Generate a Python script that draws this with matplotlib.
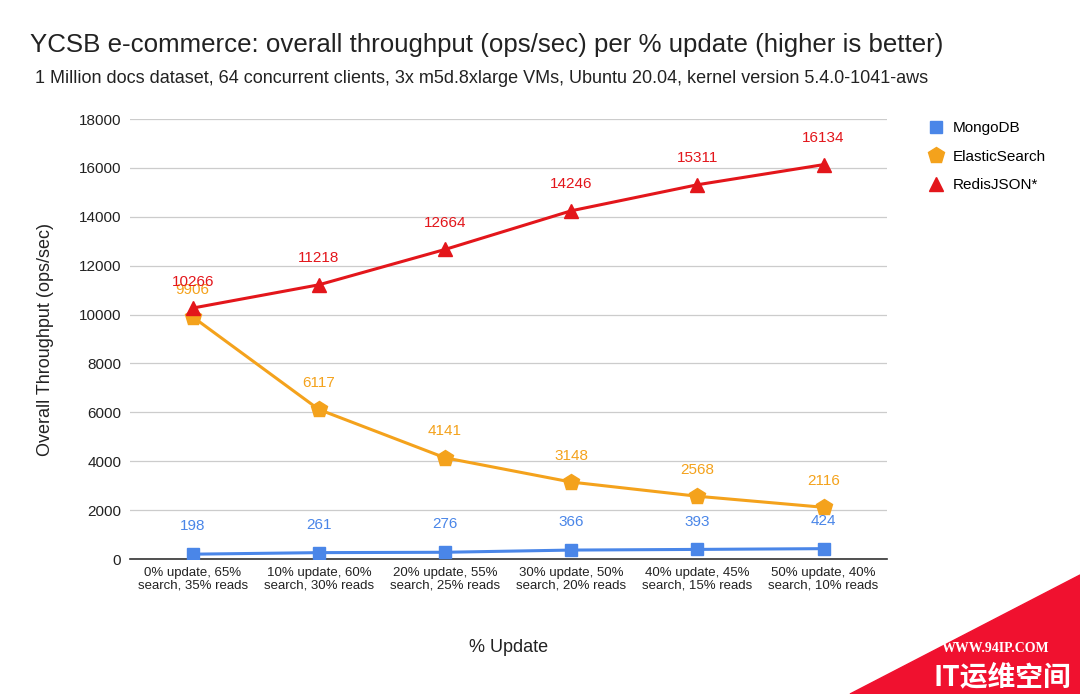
import matplotlib.pyplot as plt
from matplotlib.patches import Polygon
from matplotlib.lines import Line2D

categories = ['0% update, 65%\nsearch, 35% reads', '10% update, 60%\nsearch, 30% reads',
              '20% update, 55%\nsearch, 25% reads', '30% update, 50%\nsearch, 20% reads',
              '40% update, 45%\nsearch, 15% reads', '50% update, 40%\nsearch, 10% reads']
mongodb = [198, 261, 276, 366, 393, 424]
elastic = [9906, 6117, 4141, 3148, 2568, 2116]
redisjson = [10266, 11218, 12664, 14246, 15311, 16134]
yticks = [0, 2000, 4000, 6000, 8000, 10000, 12000, 14000, 16000, 18000]

c_blue = '#4a86e8'
c_orange = '#f4a21c'
c_red = '#e3161b'

plt.rcParams['font.family'] = ['Liberation Sans', 'DejaVu Sans']

fig = plt.figure(figsize=(10.8, 6.94), dpi=100)
ax = fig.add_axes([0.120, 0.1945, 0.701, 0.634])
x = list(range(len(categories)))

ax.plot(x, mongodb, color=c_blue, lw=2.2, marker='s', ms=8, zorder=3)
ax.plot(x, elastic, color=c_orange, lw=2.2, marker='p', ms=12, zorder=3)
ax.plot(x, redisjson, color=c_red, lw=2.2, marker='^', ms=10, zorder=4)

# data labels
for xi, v in zip(x, mongodb):
    ax.annotate(str(v), (xi, v), xytext=(0, 15), textcoords='offset points',
                ha='center', va='bottom', color=c_blue, fontsize=11)
for xi, v in zip(x, elastic):
    ax.annotate(str(v), (xi, v), xytext=(0, 14), textcoords='offset points',
                ha='center', va='bottom', color=c_orange, fontsize=11, zorder=2)
for xi, v in zip(x, redisjson):
    ax.annotate(str(v), (xi, v), xytext=(0, 14), textcoords='offset points',
                ha='center', va='bottom', color=c_red, fontsize=11, zorder=5)

ax.set_xlim(-0.5, len(categories) - 0.5)
ax.set_ylim(0, 18000)
ax.set_yticks(yticks)
ax.set_yticklabels([str(t) for t in yticks], fontsize=11, color='#222222')
ax.set_xticks(x)
ax.set_xticklabels(categories, fontsize=9.5, color='#222222', linespacing=1.0)
ax.tick_params(length=0, pad=6)
ax.grid(axis='y', color='#cccccc', lw=0.9)
ax.set_axisbelow(True)
for s in ['top', 'right', 'left']:
    ax.spines[s].set_visible(False)
ax.spines['bottom'].set_color('#333333')
ax.spines['bottom'].set_linewidth(1.2)

ax.set_ylabel('Overall Throughput (ops/sec)', fontsize=13, color='#222222', labelpad=18)
ax.set_xlabel('% Update', fontsize=13, color='#222222', labelpad=34)

fig.text(0.028, 0.935, 'YCSB e-commerce: overall throughput (ops/sec) per % update (higher is better)',
         fontsize=18.6, color='#222222', va='center')
fig.text(0.032, 0.887, '1 Million docs dataset, 64 concurrent clients, 3x m5d.8xlarge VMs, Ubuntu 20.04, kernel version 5.4.0-1041-aws',
         fontsize=13.0, color='#222222', va='center')

handles = [Line2D([], [], ls='none', marker='s', ms=8, color=c_blue),
           Line2D([], [], ls='none', marker='p', ms=12, color=c_orange),
           Line2D([], [], ls='none', marker='^', ms=10, color=c_red)]
fig.legend(handles, ['MongoDB', 'ElasticSearch', 'RedisJSON*'], loc='upper left',
           bbox_to_anchor=(0.845, 0.845), frameon=False, fontsize=11,
           handletextpad=0.5, labelspacing=0.95, handlelength=1.2)

# watermark corner
fig.patches.append(Polygon([[850 / 1080, 0], [1, 119 / 694], [1, 0]], closed=True,
                           transform=fig.transFigure, color='#f0112f', zorder=10))
fig.text(0.922, 0.065, 'WWW.94IP.COM', fontsize=10, color='white', fontweight='bold',
         family='Liberation Serif', ha='center', va='center', zorder=11)
fig.text(0.928, 0.024, 'IT运维空间', fontsize=20, color='white', fontweight='bold',
         family=['Noto Sans CJK SC', 'DejaVu Sans'], ha='center', va='center', zorder=11)

fig.savefig('out.png', dpi=100, facecolor='white')
